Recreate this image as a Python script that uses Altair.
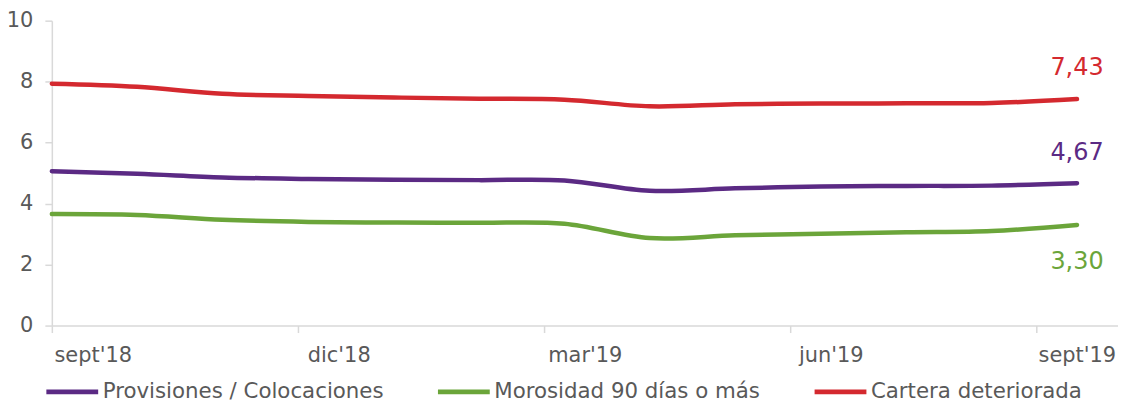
import altair as alt
import pandas as pd

# Posición de cada observación, en meses desde sept'18
meses = [0.0, 1.04, 2.08, 3.13, 4.17, 5.21, 6.25, 7.29, 8.33, 9.38, 10.42, 11.46, 12.5]

series = ["Provisiones / Colocaciones", "Morosidad 90 días o más", "Cartera deteriorada"]
colores = ["#5B2A84", "#6BA53A", "#D4292F"]

provisiones = [5.06, 4.98, 4.86, 4.81, 4.78, 4.77, 4.76, 4.42, 4.50, 4.56, 4.58, 4.59, 4.67]
morosidad = [3.66, 3.63, 3.47, 3.40, 3.38, 3.37, 3.34, 2.87, 2.96, 3.01, 3.06, 3.10, 3.30]
cartera = [7.93, 7.83, 7.60, 7.53, 7.48, 7.44, 7.41, 7.19, 7.26, 7.28, 7.29, 7.30, 7.43]

tick_vals = [0, 3, 6, 9, 12]
tick_labels = ["sept'18", "dic'18", "mar'19", "jun'19", "sept'19"]
y_ticks = [0, 2, 4, 6, 8, 10]

valores = {series[0]: provisiones, series[1]: morosidad, series[2]: cartera}
rows = []
for s in series:
    for m, v in zip(meses, valores[s]):
        rows.append({"mes": m, "valor": v, "serie": s})
df = pd.DataFrame(rows)

FONT = "DejaVu Sans"
label_expr = "[" + ",".join('"%s"' % t for t in tick_labels) + "][datum.value/3]"

x_enc = alt.X(
    "mes:Q",
    scale=alt.Scale(domain=[0, 13], nice=False, zero=False),
    axis=alt.Axis(
        values=tick_vals, labelExpr=label_expr, title=None, grid=False,
        tickSize=7, labelPadding=12, labelOffset=41, labelFlush=False,
        labelOverlap=False, labelAlign="center",
    ),
)
y_enc = alt.Y(
    "valor:Q",
    scale=alt.Scale(domain=[0, 10], nice=False),
    axis=alt.Axis(values=y_ticks, title=None, grid=False, tickSize=7, labelPadding=12),
)

lines = alt.Chart(df).mark_line(strokeWidth=4.5, interpolate="cardinal", strokeCap="round").encode(
    x=x_enc,
    y=y_enc,
    color=alt.Color(
        "serie:N",
        scale=alt.Scale(domain=series, range=colores),
        sort=series,
        legend=alt.Legend(
            title=None, orient="none", legendX=-8, legendY=344, direction="horizontal",
            symbolType="stroke", symbolSize=2704, symbolStrokeWidth=5,
            labelFontSize=21.4, labelFont=FONT, labelColor="#595959",
            labelOffset=2, columnPadding=44, labelLimit=0,
        ),
    ),
)

offsets = {series[0]: -30, series[1]: 37, series[2]: -31}
layers = [lines]
for s, c in zip(series, colores):
    last = pd.DataFrame([{"mes": meses[-1], "valor": valores[s][-1], "serie": s}])
    t = alt.Chart(last).transform_calculate(
        etiqueta="replace(format(datum.valor, '.2f'), '.', ',')"
    ).mark_text(dy=offsets[s], fontSize=24, font=FONT, color=c).encode(
        x=x_enc, y=y_enc, text="etiqueta:N"
    )
    layers.append(t)

chart = alt.layer(*layers).properties(
    width=1070, height=306,
    padding={"left": 44, "top": 12, "right": 0, "bottom": 78},
    autosize=alt.AutoSizeParams(type="none"),
).configure_view(stroke=None).configure_axis(
    domainColor="#D9D9D9", tickColor="#D9D9D9", labelColor="#595959",
    labelFont=FONT, labelFontSize=21, domainWidth=1.5, tickWidth=1.5,
)

chart.save("out.html", embed_options={"renderer": "svg", "actions": False})
